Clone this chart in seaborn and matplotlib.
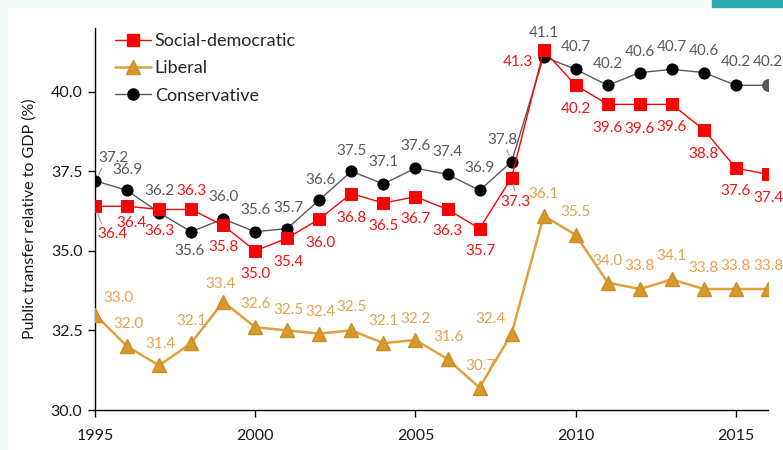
import matplotlib
matplotlib.use("Agg")
import matplotlib.pyplot as plt
from matplotlib.patches import Rectangle
from matplotlib.lines import Line2D
import pandas as pd
import seaborn as sns

# ---- data ----
years = list(range(1995, 2017))
social_democratic = [36.4, 36.4, 36.3, 36.3, 35.8, 35.0, 35.4, 36.0, 36.8, 36.5, 36.7,
                     36.3, 35.7, 37.3, 41.3, 40.2, 39.6, 39.6, 39.6, 38.8, 37.6, 37.4]
liberal = [33.0, 32.0, 31.4, 32.1, 33.4, 32.6, 32.5, 32.4, 32.5, 32.1, 32.2,
           31.6, 30.7, 32.4, 36.1, 35.5, 34.0, 33.8, 34.1, 33.8, 33.8, 33.8]
conservative = [37.2, 36.9, 36.2, 35.6, 36.0, 35.6, 35.7, 36.6, 37.5, 37.1, 37.6,
                37.4, 36.9, 37.8, 41.1, 40.7, 40.2, 40.6, 40.7, 40.6, 40.2, 40.2]
series_names = ["Social-democratic", "Liberal", "Conservative"]
y_ticks = [30.0, 32.5, 35.0, 37.5, 40.0]
x_ticks = [1995, 2000, 2005, 2010, 2015]

# ---- label placement (pixel offsets from each point, up = positive) ----
sd_off = [(17, -28), (4, -17), (0, -22), (0, 18), (0, -22), (0, -23), (1, -24), (1, -24),
          (0, -24), (0, -23), (0, -22), (0, -22), (1, -22), (4, -24), (-26, -12),
          (0, -24), (0, -24), (0, -25), (0, -23), (0, -24), (0, -23), (0, -24)]
lib_off = [(23, 16), (1, 22), (1, 21), (0, 22), (-3, 18), (0, 23), (1, 20), (1, 22),
           (0, 23), (0, 22), (0, 21), (1, 22), (1, 22), (-21, 15), (0, 22), (0, 23),
           (0, 22), (0, 23), (0, 23), (0, 21), (0, 23), (0, 23)]
con_off = [(18, 23), (0, 20), (0, 22), (-2, -19), (0, 22), (0, 22), (1, 21), (1, 20),
           (0, 20), (0, 22), (0, 22), (0, 22), (0, 22), (-9, 22), (0, 24), (0, 22),
           (0, 21), (0, 21), (0, 22), (0, 22), (0, 23), (0, 23)]
sd_leaders = {0: (0.2, 1.0), 13: (0.5, 1.0)}
con_leaders = {0: (0.2, 0.0), 13: (0.6, 0.0)}

RED = "#ff0000"
RED_TXT = "#f01414"
GOLD_LINE = "#e0a03c"
GOLD_MARK = "#d8982c"
GOLD_TXT = "#e6a24e"
GREY_LINE = "#595959"
GREY_TXT = "#595959"

SQ, CI, TR = 8.3, 8.0, 9.8  # marker sizes

sns.set_theme(style="white")
plt.rcParams["font.family"] = ["Lato", "DejaVu Sans"]

fig = plt.figure(figsize=(7.83, 4.5), dpi=100)
fig.patch.set_facecolor("white")
W, H = 783, 450
# page frame strips
fig.add_artist(Rectangle((0, 0), 7 / W, 1, transform=fig.transFigure, color="#f4f9fa", zorder=0))
fig.add_artist(Rectangle((0, 1 - 7 / H), 1, 7 / H, transform=fig.transFigure, color="#f4f9fa", zorder=0))
fig.add_artist(Rectangle((712 / W, 1 - 7 / H), 71 / W, 7 / H, transform=fig.transFigure,
                         color="#2ba8ae", zorder=1))

ax = fig.add_axes([95 / W, 40 / H, (768 - 95) / W, (410 - 28) / H])

df = pd.DataFrame({"year": years, "sd": social_democratic, "lib": liberal, "con": conservative})

sns.lineplot(data=df, x="year", y="lib", ax=ax, color=GOLD_LINE, linewidth=1.8,
             marker="^", markersize=TR, markerfacecolor=GOLD_MARK,
             markeredgecolor="#d08c20", markeredgewidth=1, zorder=3)
sns.lineplot(data=df, x="year", y="con", ax=ax, color=GREY_LINE, linewidth=1.0,
             marker="o", markersize=CI, markerfacecolor="black",
             markeredgecolor="black", zorder=4)
sns.lineplot(data=df, x="year", y="sd", ax=ax, color=RED, linewidth=1.0,
             marker="s", markersize=SQ, markerfacecolor=RED,
             markeredgecolor=RED, zorder=5)
# latest conservative point shown in grey
ax.plot([years[-1]], [conservative[-1]], marker="o", markersize=CI, color=GREY_LINE,
        linestyle="none", zorder=6)


def label_series(values, offsets, color, leaders):
    for i, (yr, v) in enumerate(zip(years, values)):
        dx, dy = offsets[i]
        kw = dict(textcoords="offset pixels", ha="center", va="center",
                  fontsize=11, color=color, zorder=7)
        if i in leaders:
            kw["arrowprops"] = dict(arrowstyle="-", color="#a6a6a6", lw=0.9,
                                    shrinkA=0, shrinkB=5, relpos=leaders[i])
        ax.annotate(f"{v:.1f}", xy=(yr, v), xytext=(dx, dy), **kw)


label_series(conservative, con_off, GREY_TXT, con_leaders)
label_series(social_democratic, sd_off, RED_TXT, sd_leaders)
label_series(liberal, lib_off, GOLD_TXT, {})

ax.set_xlim(1995, 2016)
ax.set_ylim(30, 42)
ax.set_yticks(y_ticks)
ax.set_yticklabels([f"{t:.1f}" for t in y_ticks])
ax.set_xticks(x_ticks)
ax.set_xticklabels([str(t) for t in x_ticks])
ax.tick_params(axis="both", which="major", direction="out", length=5, width=1,
               color="black", labelsize=11.5, labelcolor="#1a1a1a", bottom=True, left=True)
ax.tick_params(axis="y", pad=4)
ax.tick_params(axis="x", pad=9)
ax.set_xlabel("")
ax.set_ylabel("Public transfer relative to GDP (%)", fontsize=11.5, color="#1a1a1a", labelpad=10)
for side in ["top", "right"]:
    ax.spines[side].set_visible(False)
for side in ["left", "bottom"]:
    ax.spines[side].set_color("black")
    ax.spines[side].set_linewidth(1.0)
ax.set_facecolor("none")

handles = [
    Line2D([], [], color=RED, lw=1.0, marker="s", markersize=SQ, markerfacecolor=RED),
    Line2D([], [], color=GOLD_LINE, lw=1.8, marker="^", markersize=TR,
           markerfacecolor=GOLD_MARK, markeredgecolor="#d08c20"),
    Line2D([], [], color=GREY_LINE, lw=1.0, marker="o", markersize=CI, markerfacecolor="black",
           markeredgecolor="black"),
]
ax.legend(handles, series_names, loc="upper left", bbox_to_anchor=(0.011, 1.0195),
          frameon=False, fontsize=13, handlelength=2.0, handletextpad=0.2,
          labelspacing=0.62, borderaxespad=0.3)

fig.savefig("out.png", dpi=100, facecolor=fig.get_facecolor())
